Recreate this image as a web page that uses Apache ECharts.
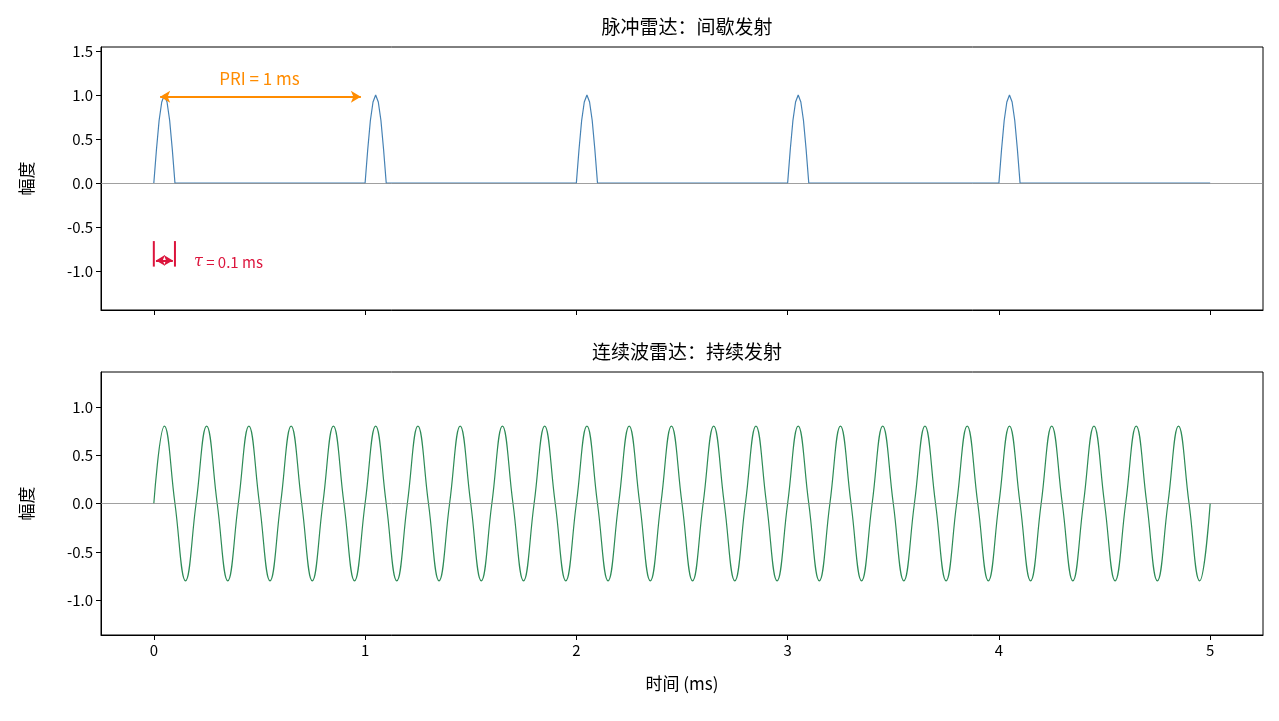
<!DOCTYPE html>
<html><head><meta charset="utf-8">
<script src="https://cdn.jsdelivr.net/npm/echarts@6/dist/echarts.min.js"></script>
<style>html,body{margin:0;padding:0;background:#fff}#c{width:1279px;height:721px}</style>
</head><body><div id="c"></div>
<script>
// Pulse radar: pulse start times (ms) and one pulse's shape
const pulseStarts = [0, 1, 2, 3, 4];
const pulseOffsets = [0, 0.0125, 0.025, 0.0375, 0.05, 0.0625, 0.075, 0.0875, 0.1];
const pulseShape = [0, 0.38, 0.71, 0.92, 1.0, 0.92, 0.71, 0.38, 0];
const pulseEnd = 5;
// CW radar: samples every 0.05 ms
const cwStep = 0.05;
const cwValues = [0,0.8,0,-0.8,0,0.8,0,-0.8,0,0.8,0,-0.8,0,0.8,0,-0.8,0,0.8,0,-0.8,
0,0.8,0,-0.8,0,0.8,0,-0.8,0,0.8,0,-0.8,0,0.8,0,-0.8,0,0.8,0,-0.8,
0,0.8,0,-0.8,0,0.8,0,-0.8,0,0.8,0,-0.8,0,0.8,0,-0.8,0,0.8,0,-0.8,
0,0.8,0,-0.8,0,0.8,0,-0.8,0,0.8,0,-0.8,0,0.8,0,-0.8,0,0.8,0,-0.8,
0,0.8,0,-0.8,0,0.8,0,-0.8,0,0.8,0,-0.8,0,0.8,0,-0.8,0,0.8,0,-0.8,0];
const xTicks = [0, 1, 2, 3, 4, 5];
const yTicksTop = [-1.0, -0.5, 0.0, 0.5, 1.0, 1.5];
const yTicksBot = [-1.0, -0.5, 0.0, 0.5, 1.0];

const pulseData = [];
pulseStarts.forEach(s => pulseOffsets.forEach((o, i) => pulseData.push([s + o, pulseShape[i]])));
pulseData.push([pulseEnd, 0]);
const cwData = cwValues.map((v, i) => [+(i * cwStep).toFixed(3), v]);

const font = '"Noto Sans CJK SC", "Noto Sans", sans-serif';
const txt = {color: '#000', fontFamily: font};
function xAx(idx, labels) {
  return {gridIndex: idx, type: 'value', min: -0.25, max: 5.25,
    axisLine: {onZero: false, lineStyle: {color: '#000'}},
    axisTick: {customValues: xTicks, length: 5, lineStyle: {color: '#000'}},
    axisLabel: {show: labels, customValues: xTicks, fontSize: 15, ...txt, margin: 8},
    splitLine: {show: false},
    name: labels ? '时间 (ms)' : '', nameLocation: 'middle', nameGap: 40,
    nameTextStyle: {fontSize: 17, ...txt}};
}
function yAx(idx, min, max, ticks) {
  return {gridIndex: idx, type: 'value', min, max,
    axisLine: {show: true, onZero: false, lineStyle: {color: '#000'}},
    axisTick: {show: true, customValues: ticks, length: 5, lineStyle: {color: '#000'}},
    axisLabel: {customValues: ticks, fontSize: 15, ...txt, formatter: v => v.toFixed(1)},
    splitLine: {show: false},
    name: '幅度', nameLocation: 'middle', nameGap: 66, nameRotate: 90,
    nameTextStyle: {fontSize: 17, ...txt}};
}
const zeroLine = {silent: true, symbol: 'none', label: {show: false},
  lineStyle: {color: '#888', width: 0.8, type: 'solid'},
  data: [[{coord: [-0.25, 0]}, {coord: [5.25, 0]}]]};

const chart = echarts.init(document.getElementById('c'));
chart.setOption({
  animation: false,
  title: [
    {text: '脉冲雷达：间歇发射', left: 682, top: 12, textAlign: 'center', textStyle: {fontSize: 19, fontWeight: 'normal', ...txt}},
    {text: '连续波雷达：持续发射', left: 682, top: 337, textAlign: 'center', textStyle: {fontSize: 19, fontWeight: 'normal', ...txt}}
  ],
  grid: [
    {left: 101, top: 47, width: 1162, height: 263, show: true, borderColor: '#000', borderWidth: 1},
    {left: 101, top: 372, width: 1162, height: 263, show: true, borderColor: '#000', borderWidth: 1}
  ],
  xAxis: [xAx(0, false), xAx(1, true)],
  yAxis: [yAx(0, -1.443, 1.545, yTicksTop), yAx(1, -1.36, 1.36, yTicksBot)],
  series: [
    {type: 'line', xAxisIndex: 0, yAxisIndex: 0, data: pulseData, showSymbol: false, smooth: false,
      lineStyle: {color: '#4682b4', width: 1.2}, z: 3,
      markLine: zeroLine},
    {type: 'line', xAxisIndex: 0, yAxisIndex: 0, data: [], markLine: {silent: true,
      symbol: ['arrow', 'arrow'], symbolSize: [9, 10], label: {show: false},
      lineStyle: {color: '#ff8c00', width: 2, type: 'solid'},
      data: [[{coord: [0.03, 0.98]}, {coord: [0.98, 0.98]}]]}},
    {type: 'line', xAxisIndex: 0, yAxisIndex: 0, data: [], markLine: {silent: true,
      symbol: ['arrow', 'arrow'], symbolSize: [8, 9], label: {show: false},
      lineStyle: {color: '#dc143c', width: 2, type: 'solid'},
      data: [[{coord: [0.01, -0.88]}, {coord: [0.09, -0.88]}]]}},
    {type: 'line', xAxisIndex: 0, yAxisIndex: 0, data: [[0, -0.66], [0, -0.95]], showSymbol: false,
      lineStyle: {color: '#dc143c', width: 2}},
    {type: 'line', xAxisIndex: 0, yAxisIndex: 0, data: [[0.1, -0.66], [0.1, -0.95]], showSymbol: false,
      lineStyle: {color: '#dc143c', width: 2}},
    {type: 'scatter', xAxisIndex: 0, yAxisIndex: 0, symbolSize: 0, silent: true, itemStyle: {opacity: 1},
      data: [{value: [0.5, 1.19], label: {show: true, formatter: 'PRI = 1 ms', color: '#ff8c00', fontSize: 17, fontFamily: font, position: 'inside'}},
             {value: [0.19, -0.9], label: {show: true, formatter: '{i|τ} = 0.1 ms', color: '#dc143c', fontSize: 15, fontFamily: font, position: 'right', distance: 0,
               rich: {i: {fontStyle: 'italic', color: '#dc143c', fontSize: 16, fontFamily: 'DejaVu Serif'}}}}]},
    {type: 'line', xAxisIndex: 1, yAxisIndex: 1, data: cwData, showSymbol: false, smooth: 0.45,
      lineStyle: {color: '#2e8b57', width: 1.2}, z: 3,
      markLine: zeroLine}
  ]
});
</script></body></html>
